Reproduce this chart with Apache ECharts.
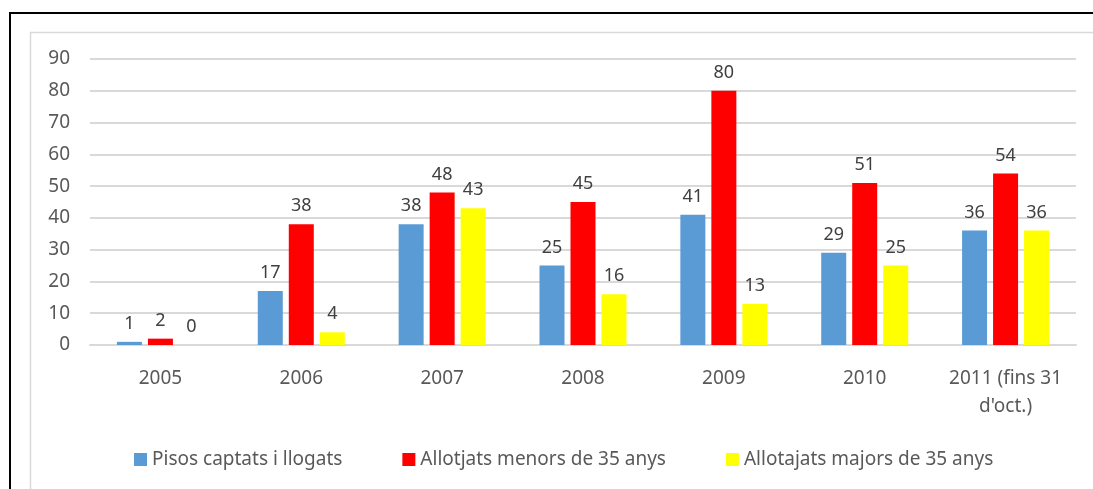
<!DOCTYPE html>
<html>
<head>
<meta charset="utf-8">
<script src="https://cdn.jsdelivr.net/npm/echarts@6/dist/echarts.min.js"></script>
<style>
  html, body { margin: 0; padding: 0; background: #fff; }
  #main { width: 1093px; height: 489px; }
</style>
</head>
<body>
<div id="main"></div>
<script>
    // dades llegides del gràfic
    var categories = ['2005', '2006', '2007', '2008', '2009', '2010', "2011 (fins 31\nd'oct.)"];
    var pisosCaptats = [1, 17, 38, 25, 41, 29, 36];
    var menors35 = [2, 38, 48, 45, 80, 51, 54];
    var majors35 = [0, 4, 43, 16, 13, 25, 36];
    var seriesNames = ['Pisos captats i llogats', 'Allotjats menors de 35 anys', 'Allotajats majors de 35 anys'];
    var colors = ['#5b9bd5', '#ff0000', '#ffff00'];

    var font = '"Noto Sans", "Open Sans", sans-serif';
    var myChart = echarts.init(document.getElementById('main'));

    function barSerie(i, data) {
        return {
            name: seriesNames[i],
            type: 'bar',
            data: data,
            barWidth: 25,
            barGap: '24%',
            itemStyle: { color: colors[i] },
            label: {
                show: true,
                position: 'top',
                distance: 9,
                color: '#404040',
                fontSize: 18,
                fontFamily: font
            }
        };
    }

    myChart.setOption({
        animation: false,
        graphic: [
            {
                type: 'rect',
                shape: { x: 10, y: 13, width: 1200, height: 600 },
                style: { fill: 'none', stroke: '#000', lineWidth: 2 }
            },
            {
                type: 'rect',
                shape: { x: 30.5, y: 32.5, width: 1200, height: 600 },
                style: { fill: 'none', stroke: '#d9d9d9', lineWidth: 1.5 }
            }
        ],
        grid: {
            left: 90,
            right: 17,
            top: 59,
            bottom: 144,
            containLabel: false
        },
        legend: {
            data: seriesNames,
            left: 129,
            top: 445,
            itemWidth: 13,
            itemHeight: 13,
            itemGap: 60,
            icon: 'rect',
            textStyle: { color: '#595959', fontSize: 19, fontFamily: font }
        },
        xAxis: {
            type: 'category',
            data: categories,
            axisTick: { show: false },
            axisLine: { lineStyle: { color: '#d9d9d9', width: 2 } },
            axisLabel: {
                color: '#595959',
                fontSize: 19,
                fontFamily: font,
                margin: 20,
                lineHeight: 28,
                interval: 0
            }
        },
        yAxis: {
            type: 'value',
            min: 0,
            max: 90,
            interval: 10,
            axisLine: { show: false },
            axisTick: { show: false },
            splitLine: { lineStyle: { color: '#d9d9d9', width: 2 } },
            axisLabel: {
                color: '#595959',
                fontSize: 19,
                fontFamily: font,
                margin: 20
            }
        },
        series: [
            barSerie(0, pisosCaptats),
            barSerie(1, menors35),
            barSerie(2, majors35)
        ]
    });
</script>
</body>
</html>
